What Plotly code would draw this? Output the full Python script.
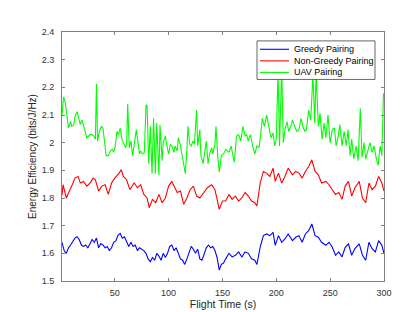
import plotly.graph_objects as go

# ---- data ----
greedy_t = [1, 3, 5, 7, 9, 11, 13, 15, 17, 19, 21, 23, 25, 27, 29, 31, 33, 35, 37, 39,
            41, 43, 45, 47, 49, 51, 53, 55, 57, 59, 61, 63, 65, 67, 69, 71, 73, 75, 77, 79,
            81, 83, 85, 87, 89, 91, 93, 95, 97, 99, 101, 103, 105, 107, 109, 111, 113, 115,
            117, 119, 121, 123, 125, 127, 129, 131, 133, 135, 137, 139, 141, 143, 145, 147,
            149, 151, 153, 156, 159, 162, 165, 168, 171, 174, 177, 180, 182, 185, 188, 191,
            194, 197, 199, 202, 205, 208, 211, 215, 218, 221, 224, 227, 230, 233, 236, 239,
            242, 246, 249, 252, 255, 258, 261, 264, 267, 270, 273, 277, 280, 283, 286, 289,
            292, 295, 298, 300]
greedy_v = [1.64, 1.61, 1.60, 1.62, 1.63, 1.645, 1.655, 1.66, 1.65, 1.63, 1.625, 1.63, 1.62,
            1.635, 1.65, 1.64, 1.655, 1.62, 1.635, 1.63, 1.62, 1.625, 1.61, 1.62, 1.64, 1.645,
            1.665, 1.672, 1.655, 1.66, 1.64, 1.625, 1.64, 1.625, 1.63, 1.61, 1.62, 1.615, 1.61,
            1.60, 1.58, 1.57, 1.585, 1.575, 1.60, 1.59, 1.575, 1.60, 1.585, 1.60, 1.625, 1.63,
            1.61, 1.62, 1.60, 1.58, 1.575, 1.56, 1.58, 1.60, 1.625, 1.615, 1.60, 1.615, 1.58,
            1.575, 1.60, 1.62, 1.63, 1.62, 1.625, 1.61, 1.585, 1.54, 1.56, 1.565, 1.58, 1.60,
            1.587, 1.593, 1.605, 1.587, 1.605, 1.60, 1.58, 1.575, 1.56, 1.622, 1.664, 1.67,
            1.664, 1.676, 1.629, 1.664, 1.64, 1.652, 1.67, 1.646, 1.658, 1.664, 1.64, 1.67,
            1.682, 1.706, 1.664, 1.658, 1.64, 1.629, 1.64, 1.622, 1.593, 1.605, 1.587, 1.622,
            1.634, 1.593, 1.617, 1.634, 1.593, 1.575, 1.64, 1.617, 1.605, 1.646, 1.629, 1.60]

nongreedy_t = [1, 2, 5, 7, 10, 13, 16, 18, 21, 24, 27, 30, 32, 35, 38, 41, 44, 47, 50, 54,
               56, 58, 61, 64, 68, 71, 74, 77, 80, 82, 85, 88, 91, 94, 97, 100, 103, 105,
               108, 111, 114, 117, 120, 123, 126, 129, 133, 136, 140, 143, 145, 147, 150,
               153, 156, 159, 162, 165, 168, 171, 174, 177, 180, 182, 185, 188, 191, 194,
               197, 199, 202, 205, 208, 211, 215, 218, 221, 224, 227, 230, 233, 236, 239,
               242, 246, 249, 252, 255, 258, 261, 264, 267, 270, 273, 277, 280, 283, 286,
               289, 292, 295, 298, 300]
nongreedy_v = [1.81, 1.848, 1.80, 1.82, 1.843, 1.872, 1.878, 1.854, 1.86, 1.843, 1.854,
               1.872, 1.866, 1.825, 1.843, 1.848, 1.813, 1.854, 1.872, 1.89, 1.902, 1.878,
               1.866, 1.83, 1.854, 1.837, 1.848, 1.813, 1.80, 1.765, 1.795, 1.783, 1.813,
               1.783, 1.80, 1.843, 1.86, 1.843, 1.82, 1.825, 1.777, 1.80, 1.83, 1.843, 1.807,
               1.80, 1.82, 1.837, 1.848, 1.83, 1.795, 1.759, 1.789, 1.789, 1.813, 1.795, 1.807,
               1.789, 1.80, 1.82, 1.807, 1.789, 1.783, 1.771, 1.854, 1.896, 1.89, 1.878, 1.908,
               1.86, 1.89, 1.854, 1.878, 1.908, 1.884, 1.896, 1.89, 1.872, 1.896, 1.914, 1.938,
               1.896, 1.884, 1.854, 1.86, 1.848, 1.83, 1.813, 1.82, 1.795, 1.843, 1.86, 1.807,
               1.837, 1.86, 1.80, 1.783, 1.854, 1.83, 1.843, 1.878, 1.854, 1.825]

uav_t = [1, 2.5, 4, 5.6, 7, 9, 10, 12, 13, 15, 16.5, 18, 19.6, 21, 22.7, 24, 26, 27, 29,
         30.4, 32, 33, 34, 35.7, 37.5, 39, 40.6, 42, 44, 46, 47.5, 49, 50.5, 52, 53.6, 55,
         56.7, 58, 60, 61, 62, 63.5, 65, 66.6, 68, 70, 71, 73, 74, 76, 77.5, 79, 80, 81.5,
         83, 84.6, 86, 87.7, 89, 91, 92, 94, 95, 97, 98.5, 100, 101.6, 103, 105, 106, 108,
         109, 111, 112.5, 114, 115.5, 117, 118, 119.6, 121, 122.7, 124, 126, 127, 129, 130,
         132, 133.5, 135, 136.6, 138, 140, 141, 143, 144, 145.6, 147, 149, 151, 153, 156,
         158, 161, 163, 165, 167, 169, 171, 172.5, 174, 176, 178, 180, 182, 184, 185.5, 187,
         189, 191, 193, 195, 197, 198.5, 200, 201.6, 203, 205, 206.5, 208, 210, 211.5,
         213.5, 215, 217, 219, 221, 223, 224.5, 226.5, 228, 230, 232, 234, 235.7, 237, 239,
         240.6, 242.5, 244.4, 246, 248, 250, 252, 254, 255.5, 257.5, 259, 261, 263, 265,
         266.6, 268.5, 270, 272, 274, 276, 278, 279.6, 281.5, 283, 285, 287, 289, 290.8,
         292.6, 294.5, 296.4, 298, 299.5, 300]
uav_v = [2.10, 2.165, 2.147, 2.094, 2.053, 2.076, 2.059, 2.065, 2.094, 2.112, 2.088, 2.065,
         2.082, 2.059, 2.041, 2.018, 2.024, 2.029, 2.029, 2.024, 2.012, 2.212, 2.006, 2.041,
         2.059, 2.053, 2.0, 1.953, 1.953, 1.97, 1.976, 1.965, 1.988, 2.041, 2.029, 2.053,
         2.012, 2.0, 1.982, 1.994, 2.141, 1.982, 2.006, 1.953, 2.0, 2.047, 2.018, 1.959,
         1.97, 1.959, 1.965, 2.135, 2.135, 1.924, 2.059, 1.888, 2.088, 1.888, 2.071, 1.882,
         2.065, 1.935, 2.0, 2.024, 1.988, 1.959, 1.994, 1.988, 1.965, 1.988, 1.97, 2.018,
         1.988, 1.959, 1.929, 1.888, 1.976, 2.059, 1.994, 1.988, 2.006, 1.994, 2.118, 1.988,
         2.047, 1.953, 1.924, 1.976, 2.006, 1.924, 1.959, 1.982, 1.959, 1.994, 2.059, 1.953,
         1.894, 1.953, 1.959, 1.976, 1.965, 1.988, 1.929, 2.024, 2.029, 2.006, 2.059, 2.024,
         2.029, 2.006, 2.029, 1.988, 1.959, 1.988, 1.982, 2.029, 2.088, 2.059, 2.10, 2.059,
         2.018, 2.035, 1.988, 2.012, 2.259, 1.988, 2.27, 2.0, 2.047, 2.076, 2.041, 2.059,
         2.082, 2.059, 2.041, 2.047, 2.088, 2.059, 2.041, 2.047, 2.118, 2.082, 2.247, 2.071,
         2.253, 2.059, 2.106, 2.012, 2.071, 2.018, 2.10, 2.0, 2.047, 2.053, 1.988, 2.024,
         2.065, 1.988, 2.041, 1.988, 2.047, 1.953, 2.012, 1.941, 1.988, 1.935, 2.124, 1.947,
         2.0, 1.941, 1.976, 2.0, 1.965, 1.988, 1.947, 1.918, 1.988, 1.953, 2.176, 2.175]

x_ticks = [50, 100, 150, 200, 250, 300]
y_ticks = [1.5, 1.6, 1.7, 1.8, 1.9, 2.0, 2.1, 2.2, 2.3, 2.4]
y_tick_labels = ["1.5", "1.6", "1.7", "1.8", "1.9", "2", "2.1", "2.2", "2.3", "2.4"]

series_names = ["Greedy Pairing", "Non-Greedy Pairing", "UAV Pairing"]
series_colors = ["#0000ff", "#ff0000", "#00ff00"]
series_t = [greedy_t, nongreedy_t, uav_t]
series_v = [greedy_v, nongreedy_v, uav_v]

font_family = "Liberation Sans, Arial, Helvetica, sans-serif"

fig = go.Figure()
for name, t, v, c in zip(series_names, series_t, series_v, series_colors):
    fig.add_trace(go.Scatter(x=t, y=v, mode="lines", name=name,
                             line=dict(color=c, width=1.1), showlegend=False))

# ---- MATLAB-style compact legend box (paper coordinates of the plot area) ----
W, H = 415, 312
ML, MR, MT, MB = 54, 39, 24, 36
pw, ph = W - ML - MR, H - MT - MB


def px_x(p):
    return (p - ML) / pw


def px_y(p):
    return (H - MB - p) / ph


shapes = [dict(type="rect", xref="paper", yref="paper",
               x0=px_x(249), x1=px_x(367), y0=px_y(72), y1=px_y(33),
               line=dict(color="#262626", width=0.7), fillcolor="white", layer="above")]
annotations = []
row_y = [41.5, 53.2, 64.9]
for name, c, ry in zip(series_names, series_colors, row_y):
    shapes.append(dict(type="line", xref="paper", yref="paper",
                       x0=px_x(252), x1=px_x(281), y0=px_y(ry), y1=px_y(ry),
                       line=dict(color=c, width=1.1), layer="above"))
    annotations.append(dict(xref="paper", yref="paper", x=px_x(283.5), y=px_y(ry),
                            xanchor="left", yanchor="middle", showarrow=False,
                            text=name, font=dict(family=font_family, size=9, color="#000000")))

axis_common = dict(
    showline=True, linecolor="#808080", linewidth=1, mirror="allticks",
    ticks="inside", ticklen=3, tickcolor="#808080", tickwidth=1,
    showgrid=False, zeroline=False,
    tickfont=dict(family=font_family, size=9, color="#333333"),
)

fig.update_layout(
    width=W, height=H,
    margin=dict(l=ML, r=MR, t=MT, b=MB),
    paper_bgcolor="white", plot_bgcolor="white",
    font=dict(family=font_family, size=9, color="#262626"),
    xaxis=dict(range=[1, 300], tickvals=x_ticks, ticklabelstandoff=3,
               title=dict(text="Flight Time (s)", font=dict(size=10.5, color="#262626"), standoff=3),
               **axis_common),
    yaxis=dict(range=[1.5, 2.4], tickvals=y_ticks, ticktext=y_tick_labels, ticklabelstandoff=5,
               title=dict(text="Energy Efficiency (bits/J/Hz)", font=dict(size=10, color="#262626"), standoff=3),
               **axis_common),
    shapes=shapes,
    annotations=annotations,
    showlegend=False,
)

fig.write_html("out.html")
